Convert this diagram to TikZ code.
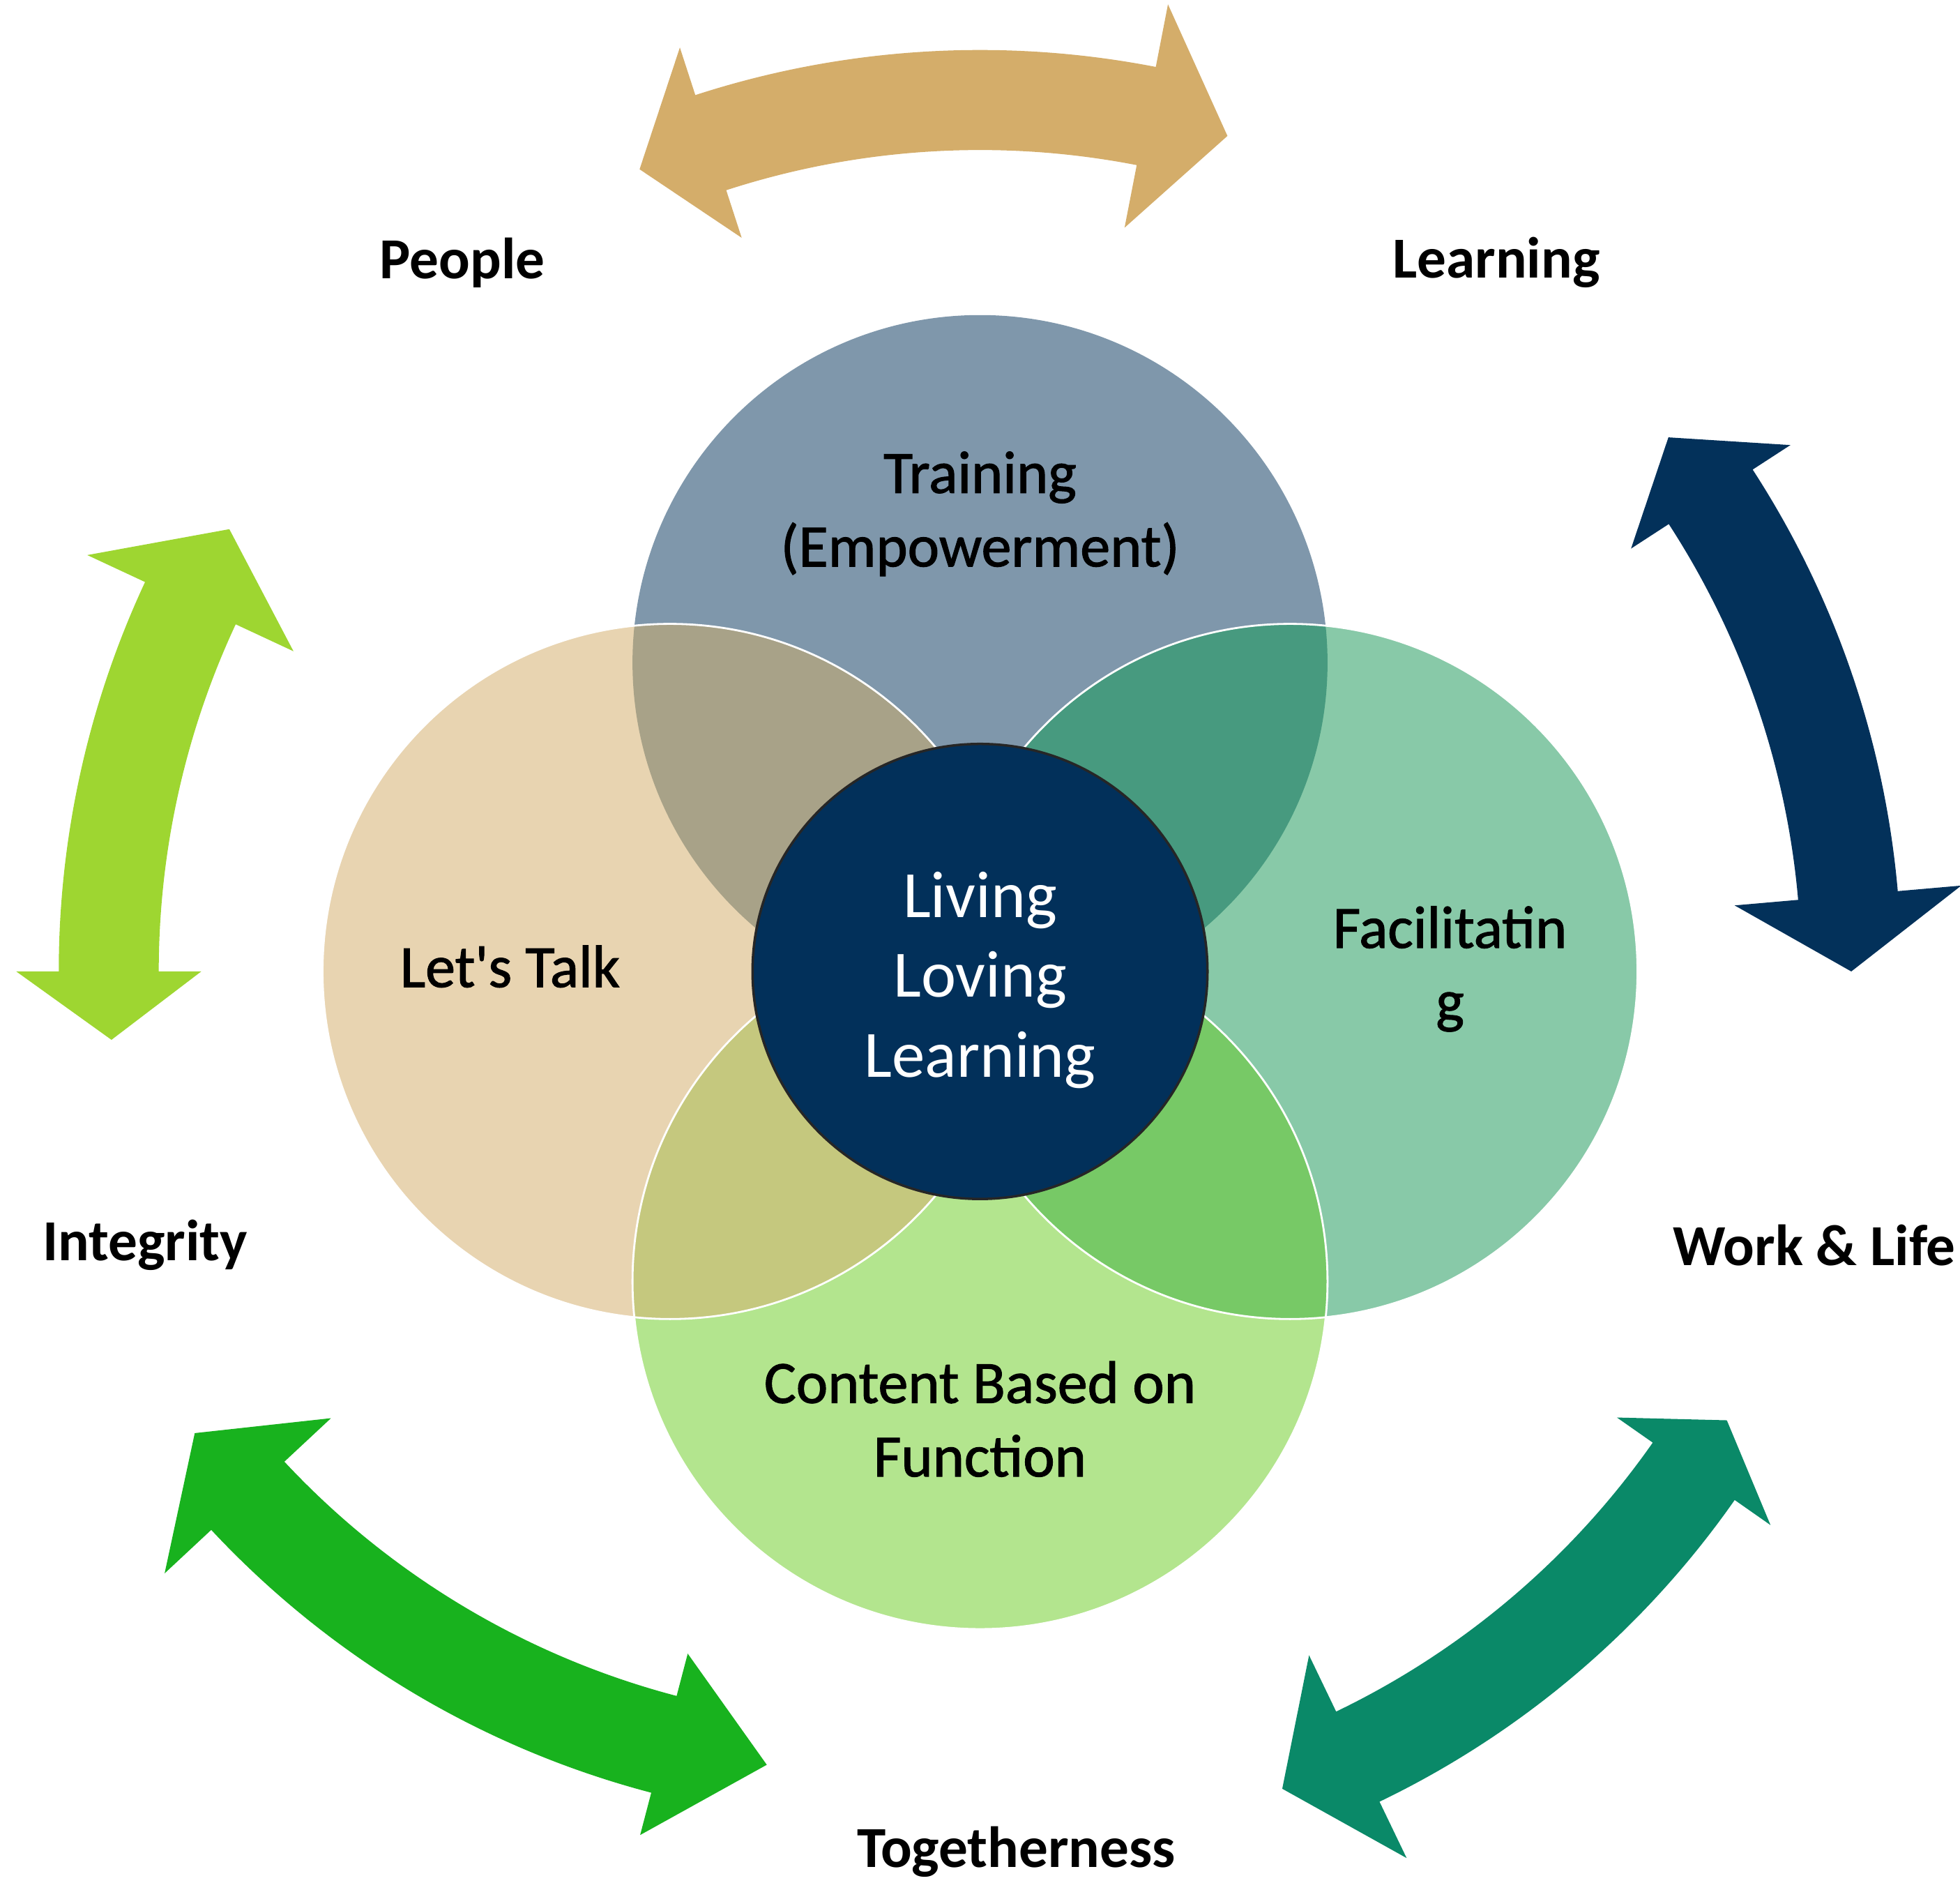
\documentclass[tikz,border=0pt]{standalone}
\usepackage{fontspec}
\setmainfont{Carlito}
\newfontfamily\semifont[FakeBold=1.3]{Carlito}
\definecolor{colTop}{HTML}{7F97AB}
\definecolor{colLeft}{HTML}{E8D4B1}
\definecolor{colRight}{HTML}{88C9A8}
\definecolor{colBot}{HTML}{B3E58E}
\definecolor{colTL}{HTML}{A8A288}
\definecolor{colTR}{HTML}{479A7F}
\definecolor{colBL}{HTML}{C5C87E}
\definecolor{colBR}{HTML}{77C966}
\definecolor{colHub}{HTML}{02305A}
\definecolor{colTan}{HTML}{D4AD6A}
\definecolor{colNavy}{HTML}{03315A}
\definecolor{colLime}{HTML}{9ED631}
\definecolor{colGreen}{HTML}{18B21E}
\definecolor{colTeal}{HTML}{0A8968}
% #1 colour, #2 centre, #3 base angle 1, #4 tip angle 1, #5 base angle 2,
% #6 tip angle 2, #7 head half-width 1, #8 head half-width 2
\newcommand\dblarrow[8]{%
  \fill[#1, shift={#2}] (#3:737) arc[start angle=#3, end angle=#5, radius=737]
    -- (#5:697+#8) -- (#6:697) -- (#5:697-#8) -- (#5:657)
    arc[start angle=#5, end angle=#3, radius=657]
    -- (#3:697-#7) -- (#4:697) -- (#3:697+#7) -- cycle;}
\begin{document}
\begin{tikzpicture}[x=0.017927cm,y=0.017927cm,
  lbl/.style={font=\fontsize{23.7}{28}\selectfont\bfseries, inner sep=0pt},
  petal/.style={font=\semifont\fontsize{24.5}{30}\selectfont, align=center, inner sep=0pt},
  hubtext/.style={font=\fontsize{27}{32.6}\selectfont, text=white, align=center, inner sep=0pt},
  wline/.style={draw=white, line width=0.8pt}]
\useasboundingbox (0,0) rectangle (1568,1506);
\coordinate (C) at (784,729);
\coordinate (T) at (784,976);
\coordinate (L) at (536,729);
\coordinate (R) at (1032,729);
\coordinate (B) at (784,481);

% arrows
\dblarrow{colTan}{(784,729)}{108}{113}{79}{73.5}{80}{91}
\dblarrow{colNavy}{(784,729)}{33}{37.8}{5}{0}{76}{91}
\dblarrow{colLime}{(784,729)}{155}{149.5}{180}{184.5}{91}{74}
\dblarrow{colGreen}{(708,785)}{223}{217.6}{255.3}{262.2}{91}{75}
\dblarrow{colTeal}{(784,729)}{325}{329}{295.7}{290.3}{75}{90}

% petals
\fill[colTop] (T) circle[radius=278];
\fill[colLeft] (L) circle[radius=278];
\fill[colRight] (R) circle[radius=278];
\fill[colBot] (B) circle[radius=278];
\begin{scope}
  \clip (T) circle[radius=278];
  \fill[colTL] (L) circle[radius=278];
  \fill[colTR] (R) circle[radius=278];
\end{scope}
\begin{scope}
  \clip (B) circle[radius=278];
  \fill[colBL] (L) circle[radius=278];
  \fill[colBR] (R) circle[radius=278];
\end{scope}
\draw[wline] (L) circle[radius=278];
\draw[wline] (R) circle[radius=278];
\draw[wline] (B) circle[radius=278];

\node[circle, fill=colHub, draw=black!85, line width=1pt, minimum size=6.525cm] (hub) at (C) {};
\node[hubtext] (hubtxt) at (784,722) {Living\\Loving\\Learning};

\node[petal] (training) at (784,1095) {Training\\(Empowerment)};
\node[petal] (talk) at (408,733) {Let's Talk};
\node[petal] (facil) at (1160,731) {Facilitatin\\g};
\node[petal] (content) at (784,371) {Content Based on\\Function};

\node[lbl] (people) at (370,1296) {People};
\node[lbl] (learning) at (1197,1296) {Learning};
\node[lbl] (integrity) at (116,510) {Integrity};
\node[lbl, anchor=west] (worklife) at (1338,510) {Work \& Life};
\node[lbl] (together) at (813,25) {Togetherness};
\end{tikzpicture}
\end{document}
